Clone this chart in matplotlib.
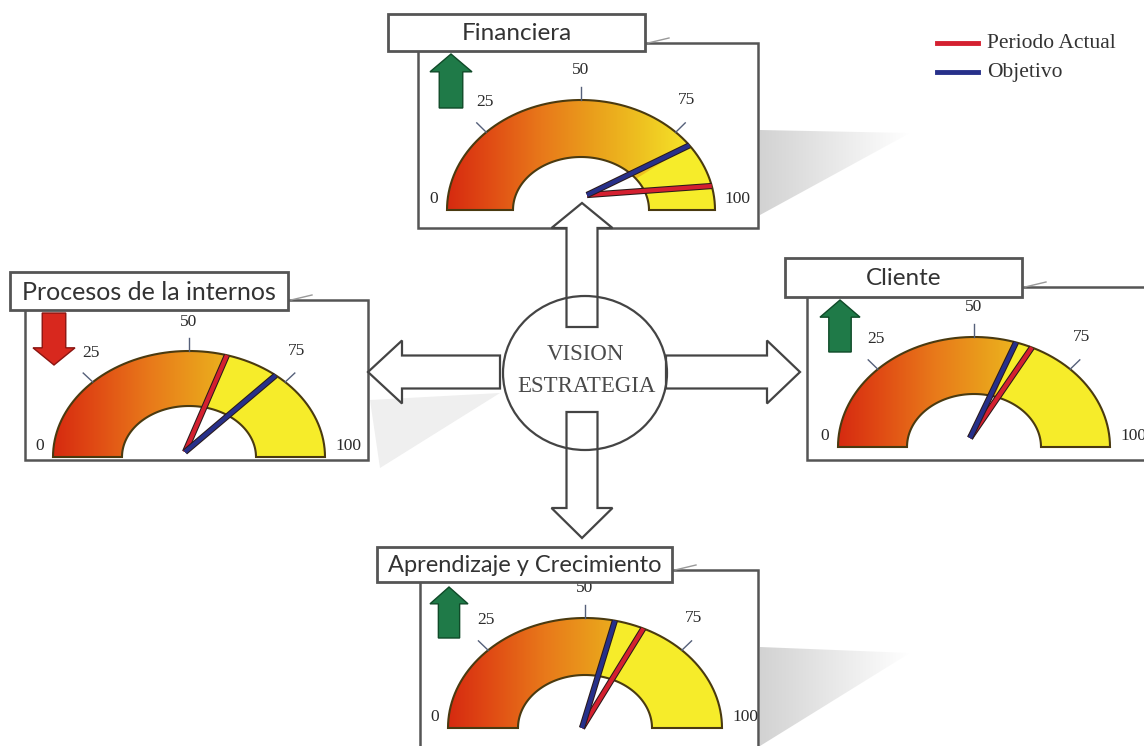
import numpy as np
import matplotlib
matplotlib.use('Agg')
import matplotlib.pyplot as plt
import matplotlib.patheffects as pe
from matplotlib.patches import Rectangle, Polygon, PathPatch, Ellipse
from matplotlib.path import Path
from matplotlib.colors import LinearSegmentedColormap

# data
titles = ['Financiera', 'Procesos de la internos', 'Cliente', 'Aprendizaje y Crecimiento']
periodo_actual = [93, 59, 64, 64]
objetivo = [80, 72, 60, 57]
tendencia = ['up', 'down', 'up', 'up']
tick_values = [0, 25, 50, 75, 100]
legend_labels = ['Periodo Actual', 'Objetivo']
center_lines = ['VISION', 'ESTRATEGIA']

# layout in pixels (title box, outer box, gauge centre/radii, needle pivot, trend arrow box)
layout = [
  dict(title=(388, 14, 645, 51), box=(418, 43, 758, 228), c=(581, 210), r=(134, 110),
       ri=(68, 53), piv=(587, 195), arrow=(430, 472, 54, 108), fs=17.5),
  dict(title=(10, 272, 288, 310), box=(25, 300, 368, 460), c=(189, 457), r=(136, 106),
       ri=(67, 51), piv=(185, 452), arrow=(33, 75, 313, 365), fs=18),
  dict(title=(785, 258, 1022, 297), box=(807, 287, 1160, 460), c=(974, 447), r=(136, 110),
       ri=(67, 53), piv=(970, 438), arrow=(820, 860, 300, 352), fs=17.5),
  dict(title=(377, 547, 672, 582), box=(420, 570, 758, 770), c=(585, 728), r=(137, 110),
       ri=(67, 53), piv=(582, 728), arrow=(430, 468, 587, 638), fs=17),
]
label_offsets = [(-1.10, 0.10), (-0.72, 0.98), (0.0, 1.27), (0.79, 1.0), (1.17, 0.10)]

RED = '#d42030'
BLUE = '#27308a'
cmap = LinearSegmentedColormap.from_list('gauge', [
  (0.0, '#d62a10'), (0.15, '#e04a14'), (0.35, '#e8781a'), (0.55, '#eaa01c'),
  (0.72, '#eec020'), (0.88, '#f4e028'), (1.0, '#f8f02c')])


def ang(v):
  return np.pi * (1 - v / 100.0)


def sector_path(cx, cy, rx, ry, rix, riy, t0, t1):
  t = np.linspace(t0, t1, 80)
  outer = np.column_stack([cx + rx * np.cos(t), cy - ry * np.sin(t)])
  inner = np.column_stack([cx + rix * np.cos(t[::-1]), cy - riy * np.sin(t[::-1])])
  verts = np.vstack([outer, inner, outer[:1]])
  codes = [Path.MOVETO] + [Path.LINETO] * (len(verts) - 2) + [Path.CLOSEPOLY]
  return Path(verts, codes)


def draw_gauge(ax, lay, red, blue):
  cx, cy = lay['c']
  rx, ry = lay['r']
  rix, riy = lay['ri']
  full = sector_path(cx, cy, rx, ry, rix, riy, np.pi, 0)
  clip = PathPatch(full, facecolor='none', edgecolor='none', transform=ax.transData)
  ax.add_patch(clip)
  grad = np.linspace(0, 1, 256).reshape(1, -1)
  im = ax.imshow(grad, cmap=cmap, extent=(cx - rx, cx + rx, cy, cy - ry),
                 aspect='auto', zorder=3, interpolation='bilinear')
  im.set_clip_path(clip)
  low = min(red, blue)
  ax.add_patch(PathPatch(sector_path(cx, cy, rx, ry, rix, riy, ang(low), 0),
                         facecolor='#f6ec2a', edgecolor='none', zorder=3.1))
  ax.add_patch(PathPatch(full, facecolor='none', edgecolor='#4a3a10', lw=1.5, zorder=3.2))

  # ticks and labels
  for v, (ox, oy) in zip(tick_values, label_offsets):
    ax.text(cx + ox * rx, cy - oy * ry, str(v), ha='center', va='center',
            fontsize=12.5, family='Liberation Serif', color='#2a2a2a', zorder=6)
    if 0 < v < 100:
      t = ang(v)
      ax.plot([cx + rx * np.cos(t), cx + 1.1 * rx * np.cos(t)],
              [cy - ry * np.sin(t), cy - 1.12 * ry * np.sin(t)],
              color='#55607a', lw=1, zorder=3.3)

  # needles
  px, py = lay['piv']
  for v, col in [(red, RED), (blue, BLUE)]:
    t = ang(v)
    ax.plot([px, cx + rx * np.cos(t)], [py, cy - ry * np.sin(t)], color=col, lw=3,
            solid_capstyle='butt', zorder=4,
            path_effects=[pe.Stroke(linewidth=4.5, foreground='#2a1a1a'), pe.Normal()])


def trend_arrow(ax, box, direction):
  x0, x1, y0, y1 = box
  w = x1 - x0
  h = y1 - y0
  hl = 0.33 * h
  s0, s1 = x0 + 0.22 * w, x1 - 0.22 * w
  if direction == 'up':
    pts = [(x0 + w / 2, y0), (x1, y0 + hl), (s1, y0 + hl), (s1, y1), (s0, y1), (s0, y0 + hl), (x0, y0 + hl)]
    fc, ec = '#1f7a48', '#0f4a28'
  else:
    pts = [(x0 + w / 2, y1), (x1, y1 - hl), (s1, y1 - hl), (s1, y0), (s0, y0), (s0, y1 - hl), (x0, y1 - hl)]
    fc, ec = '#d8281e', '#8a1410'
  ax.add_patch(Polygon(pts, closed=True, facecolor=fc, edgecolor=ec, lw=1, zorder=5))


def block_arrow(ax, tail, tip, shaft_w, head_w, head_len):
  tail = np.array(tail, float)
  tip = np.array(tip, float)
  d = tip - tail
  L = np.hypot(*d)
  u = d / L
  n = np.array([-u[1], u[0]])
  base = tip - u * head_len
  pts = [tail + n * shaft_w / 2, base + n * shaft_w / 2, base + n * head_w / 2, tip,
         base - n * head_w / 2, base - n * shaft_w / 2, tail - n * shaft_w / 2]
  ax.add_patch(Polygon(pts, closed=True, facecolor='white', edgecolor='#444444', lw=1.6, zorder=7))


def shadow(ax, pts, color_max=0.75):
  poly = Polygon(pts, closed=True, facecolor='none', edgecolor='none', transform=ax.transData)
  ax.add_patch(poly)
  xs = [p[0] for p in pts]
  ys = [p[1] for p in pts]
  a = np.linspace(0.7, 0.0, 256).reshape(1, -1)
  img = np.zeros((1, 256, 4))
  img[..., :3] = color_max
  img[..., 3] = a
  im = ax.imshow(img, extent=(min(xs), max(xs), max(ys), min(ys)), aspect='auto',
                 zorder=1, interpolation='bilinear')
  im.set_clip_path(poly)


def main():
  fig = plt.figure(figsize=(11.44, 7.46), dpi=100)
  ax = fig.add_axes([0, 0, 1, 1])

  # soft shadows
  shadow(ax, [(760, 130), (910, 133), (760, 215)])
  shadow(ax, [(760, 647), (910, 653), (760, 746)])
  ax.add_patch(Polygon([(370, 400), (500, 393), (380, 468)], closed=True,
                       facecolor='#efefef', edgecolor='none', zorder=1))

  for i in range(len(titles)):
    lay = layout[i]
    bx0, by0, bx1, by1 = lay['box']
    ax.add_patch(Rectangle((bx0, by0), bx1 - bx0, by1 - by0, facecolor='white',
                           edgecolor='#555555', lw=1.8, zorder=2))
    draw_gauge(ax, lay, periodo_actual[i], objetivo[i])
    trend_arrow(ax, lay['arrow'], tendencia[i])
    tx0, ty0, tx1, ty1 = lay['title']
    ax.add_patch(Rectangle((tx0, ty0), tx1 - tx0, ty1 - ty0, facecolor='white',
                           edgecolor='#555555', lw=2, zorder=8))
    ax.plot([tx1 + 3, tx1 + 24], [by0, by0 - 5], color='#999999', lw=1, zorder=8)
    ax.text((tx0 + tx1) / 2, (ty0 + ty1) / 2 + 1, titles[i], ha='center', va='center',
            fontsize=lay['fs'], family='Lato', color='#333333', zorder=9)

  # centre diagram
  block_arrow(ax, (582, 327), (582, 203), 31, 61, 25)
  block_arrow(ax, (582, 412), (582, 538), 31, 61, 30)
  block_arrow(ax, (500, 372), (368, 372), 33, 63, 34)
  block_arrow(ax, (666, 372), (800, 372), 33, 63, 33)
  ax.add_patch(Ellipse((585, 373), 164, 154, facecolor='none', edgecolor='#444444',
                       lw=1.6, zorder=8))
  ax.text(585, 355, center_lines[0], ha='center', va='center', fontsize=16.5,
          family='Liberation Serif', color='#4a4a4a', zorder=9)
  ax.text(586, 386, center_lines[1], ha='center', va='center', fontsize=16.5,
          family='Liberation Serif', color='#4a4a4a', zorder=9)

  # legend
  for j, (lab, col) in enumerate(zip(legend_labels, [RED, BLUE])):
    y = 43 + j * 29
    ax.plot([937, 978], [y, y], color=col, lw=3.5, zorder=9)
    ax.text(987, y, lab, ha='left', va='center', fontsize=15.5,
            family='Liberation Serif', color='#333333', zorder=9)

  ax.set_xlim(0, 1144)
  ax.set_ylim(746, 0)
  ax.axis('off')
  fig.savefig('out.png', dpi=100, facecolor='white')


if __name__ == '__main__':
  main()
